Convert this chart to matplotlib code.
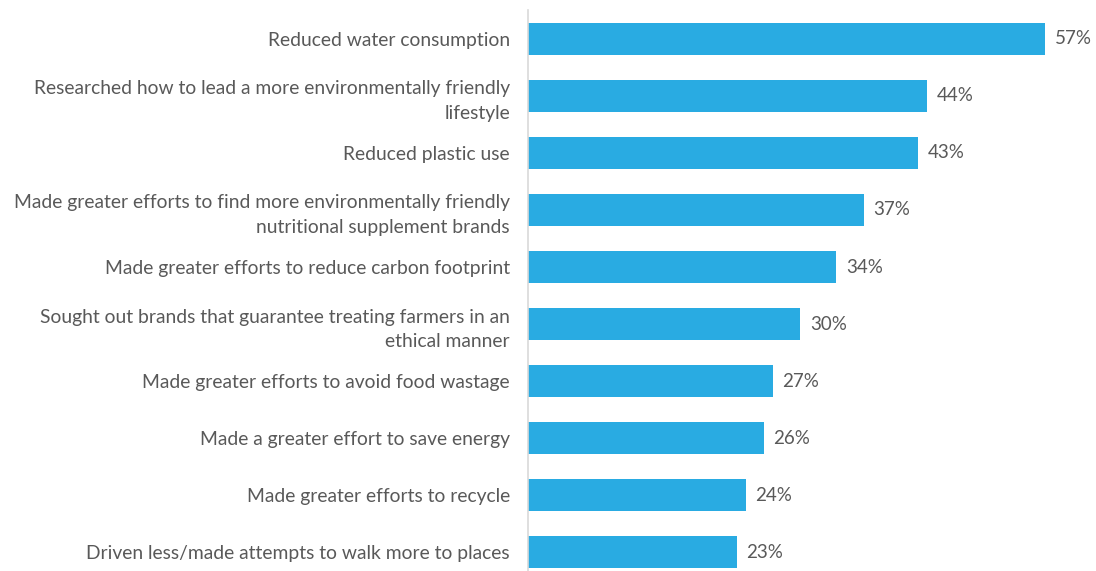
import matplotlib
matplotlib.use("Agg")
import matplotlib.pyplot as plt

# survey answers, top to bottom
actions = [
    "Reduced water consumption",
    "Researched how to lead a more environmentally friendly\nlifestyle",
    "Reduced plastic use",
    "Made greater efforts to find more environmentally friendly\nnutritional supplement brands",
    "Made greater efforts to reduce carbon footprint",
    "Sought out brands that guarantee treating farmers in an\nethical manner",
    "Made greater efforts to avoid food wastage",
    "Made a greater effort to save energy",
    "Made greater efforts to recycle",
    "Driven less/made attempts to walk more to places",
]
percents = [57, 44, 43, 37, 34, 30, 27, 26, 24, 23]

bar_color = "#29ABE2"
text_color = "#595959"

plt.rcParams["font.family"] = ["Lato", "DejaVu Sans"]

fig = plt.figure(figsize=(10.96, 5.71), dpi=100)
ax = fig.add_axes([0.4818, -0.0173, 0.4964, 0.9993])

ypos = list(range(len(actions)))
bars = ax.barh(ypos, percents, height=0.56, color=bar_color)
ax.set_ylim(len(actions) - 0.5, -0.5)
ax.set_xlim(0, 60)

ax.set_yticks(ypos)
ax.set_yticklabels(actions, fontsize=13.9, color=text_color, linespacing=1.55)
ax.tick_params(axis="y", length=0, pad=13)
ax.set_xticks([])

for spine in ["top", "right", "bottom"]:
    ax.spines[spine].set_visible(False)
ax.spines["left"].set_color("#D9D9D9")
ax.spines["left"].set_linewidth(1.2)

# value labels at bar ends
for bar, val in zip(bars, percents):
    ax.annotate(f"{val}%", (bar.get_width(), bar.get_y() + bar.get_height() / 2),
                xytext=(7, 0), textcoords="offset points", va="center",
                fontsize=13.5, color=text_color)

fig.savefig("out.png", dpi=100)
